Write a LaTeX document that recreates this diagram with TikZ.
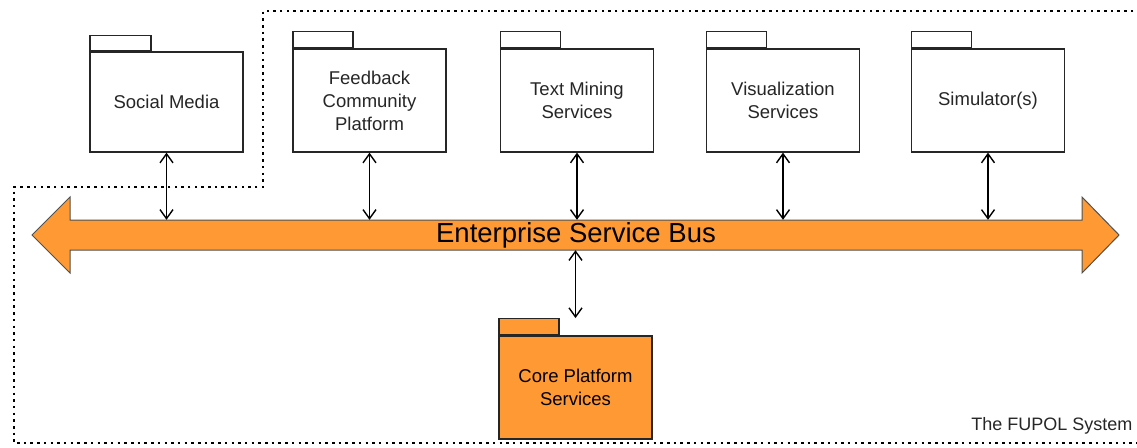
\documentclass[tikz,border=0pt]{standalone}
\usepackage{fontspec}
\setmainfont{Liberation Sans}
\usetikzlibrary{arrows.meta}
\definecolor{busorange}{HTML}{FF9933}
\definecolor{edge}{HTML}{262626}
\begin{document}
\begin{tikzpicture}[x=1pt,y=-1pt,
  pkg/.style={draw=edge, line width=1.3pt, fill=white, minimum width=153pt, minimum height=103pt, inner sep=0pt, align=center, text=black!85, font=\fontsize{18.5}{23}\selectfont},
  pkgtab/.style={draw=edge, line width=1.3pt, fill=white, minimum width=60pt, minimum height=16pt, inner sep=0pt, anchor=south west},
  conn/.style={line width=1.4pt, {Straight Barb[length=9pt,width=13pt]}-{Straight Barb[length=9pt,width=13pt]}},
  boundary/.style={line width=2.5pt, dash pattern=on 2.5pt off 4.2pt, black}
]
\useasboundingbox (0,0) rectangle (1137,447);
% system boundary
\draw[boundary] (1140,11) -- (263,11) -- (263,187) -- (14,187) -- (14,443) -- (1140,443);
\node[anchor=base east, font=\fontsize{18}{22}\selectfont, text=black!85] (sys) at (1136,430) {The FUPOL System};
% bus
\draw[draw=edge!80, line width=1pt, fill=busorange] (32,235) -- (70,197) -- (70,220) -- (1082,220) -- (1082,197) -- (1119,235) -- (1082,273) -- (1082,250) -- (70,250) -- (70,273) -- cycle;
\node[minimum width=1012pt, minimum height=30pt, inner sep=0pt, font=\fontsize{27.5}{30}\selectfont] (bus) at (576,235) {Enterprise Service Bus};
% packages
\node[pkg, minimum height=100pt] (sm) at (166.5,102) {Social Media};
\node[pkgtab, minimum width=61pt, minimum height=15pt] (smtab) at (sm.north west) {};
\node[pkg] (fb) at (369.5,100.5) {Feedback\\Community\\Platform};
\node[pkgtab] (fbtab) at (fb.north west) {};
\node[pkg] (tm) at (577,100.5) {Text Mining\\Services};
\node[pkgtab] (tmtab) at (tm.north west) {};
\node[pkg] (vis) at (783,100.5) {Visualization\\Services};
\node[pkgtab] (vistab) at (vis.north west) {};
\node[pkg] (sim) at (988,100.5) {Simulator(s)};
\node[pkgtab] (simtab) at (sim.north west) {};
\node[pkg, fill=busorange, text=black] (core) at (575.5,387.5) {Core Platform\\Services};
\node[pkgtab, fill=busorange] (coretab) at (core.north west) {};
% connectors
\draw[conn] (sm.south) -- (sm.south |- bus.north);
\draw[conn] (fb.south) -- (fb.south |- bus.north);
\draw[conn] (tm.south) -- (tm.south |- bus.north);
\draw[conn] (vis.south) -- (vis.south |- bus.north);
\draw[conn] (sim.south) -- (sim.south |- bus.north);
\draw[conn] (bus.south -| core.north) -- (core.north |- coretab.north);
\end{tikzpicture}
\end{document}
